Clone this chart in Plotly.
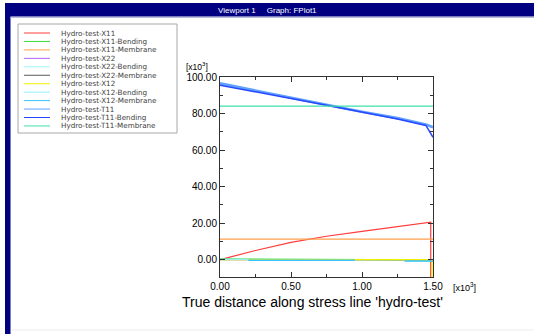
import plotly.graph_objects as go

# ---------------- data ----------------
names = [
    "Hydro-test-X11", "Hydro-test-X11-Bending", "Hydro-test-X11-Membrane",
    "Hydro-test-X22", "Hydro-test-X22-Bending", "Hydro-test-X22-Membrane",
    "Hydro-test-X12", "Hydro-test-X12-Bending", "Hydro-test-X12-Membrane",
    "Hydro-test-T11", "Hydro-test-T11-Bending", "Hydro-test-T11-Membrane",
]
colors = [
    "#ff3c3c", "#3ce03c", "#ffa04a",
    "#b266ff", "#9ff5f5", "#5a5a5a",
    "#f0f000", "#8ff0ff", "#38c4ff",
    "#5fa0ff", "#2848ff", "#3ee0a8",
]

x11_x = [0, 0.25, 0.5, 0.75, 1.0, 1.25, 1.45, 1.484, 1.484]
x11_y = [0, 5, 9.5, 12.8, 15.5, 18, 20.3, 20.5, -9.5]
x11b_x = [0, 0.25, 0.5, 0.75, 1.0, 1.25, 1.48]
x11b_y = [0.4, 0.3, 0.2, 0.1, 0.0, -0.1, -0.2]
x11m_x = [0, 1.5]
x11m_y = [11.2, 11.2]
x22_x = [0, 1.48]
x22_y = [0.0, 0.0]
x22b_x = [0, 1.48]
x22b_y = [0.1, 0.1]
x22m_x = [0, 1.48]
x22m_y = [0.0, 0.0]
x12_x = [0, 0.5, 1.0, 1.3, 1.493, 1.493]
x12_y = [0.0, 0.0, 0.1, 0.0, 0.0, -9.5]
x12b_x = [0, 0.2]
x12b_y = [0.2, 0.2]
x12m_x = [0.2, 0.5, 0.95, None, 1.3, 1.5]
x12m_y = [-0.3, -0.4, -0.3, None, -0.8, -0.8]
t11_x = [0, 0.25, 0.5, 0.75, 1.0, 1.25, 1.45, 1.5]
t11_y = [96.5, 92.5, 88.5, 84.8, 81.0, 77.5, 74.0, 72.5]
t11b_x = [0, 0.25, 0.5, 0.75, 1.0, 1.25, 1.45, 1.5]
t11b_y = [95.5, 92.0, 88.2, 84.5, 80.8, 77.0, 73.5, 67.0]
t11m_x = [0, 1.5]
t11m_y = [84.0, 84.0]

series_x = [x11_x, x11b_x, x11m_x, x22_x, x22b_x, x22m_x,
            x12_x, x12b_x, x12m_x, t11_x, t11b_x, t11m_x]
series_y = [x11_y, x11b_y, x11m_y, x22_y, x22b_y, x22m_y,
            x12_y, x12b_y, x12m_y, t11_y, t11b_y, t11m_y]
widths = [1.2, 1.4, 1.2, 1, 1, 1, 1.2, 1.2, 1.4, 2.6, 1.5, 1.2]

x_ticks = [0, 0.5, 1.0, 1.5]
y_ticks = [0, 20, 40, 60, 80, 100]

# ---------------- layout helpers ----------------
W, H = 534, 334
L, R, T, B = 220, 433, 77, 277


def px(x):
    return (x - L) / (R - L)


def py(y):
    return (B - y) / (B - T)


fig = go.Figure()
for nm, c, xs, ys, w in zip(names, colors, series_x, series_y, widths):
    fig.add_trace(go.Scatter(x=xs, y=ys, mode="lines", name=nm,
                             line=dict(color=c, width=w), showlegend=False))

FONT = "Liberation Sans, Arial, sans-serif"

shapes = []
annotations = []
# navy frame
shapes.append(dict(type="rect", xref="paper", yref="paper", x0=px(5), x1=px(534),
                   y0=py(16.5), y1=py(3), fillcolor="#000080", line_width=0, layer="below"))
shapes.append(dict(type="rect", xref="paper", yref="paper", x0=px(5), x1=px(10.5),
                   y0=py(334), y1=py(3), fillcolor="#000080", line_width=0, layer="below"))
shapes.append(dict(type="line", xref="paper", yref="paper", x0=px(10.5), x1=px(534),
                   y0=py(17.5), y1=py(17.5), line=dict(color="#b8bcd8", width=1)))
shapes.append(dict(type="line", xref="paper", yref="paper", x0=px(12), x1=px(534),
                   y0=py(330), y1=py(330), line=dict(color="#ececf0", width=1)))
annotations.append(dict(text="Viewport 1     Graph: FPlot1", xref="paper", yref="paper",
                        x=px(267), y=py(10), xanchor="center", yanchor="middle",
                        showarrow=False,
                        font=dict(color="white", size=8, family=FONT)))

# custom compact legend
shapes.append(dict(type="rect", xref="paper", yref="paper", x0=px(18), x1=px(177),
                   y0=py(133), y1=py(24), line=dict(color="#a8a8a8", width=1),
                   fillcolor="white", layer="below"))
for i, (nm, c) in enumerate(zip(names, colors)):
    yy = 33 + i * 8.45
    shapes.append(dict(type="line", xref="paper", yref="paper", x0=px(24), x1=px(50),
                       y0=py(yy), y1=py(yy), line=dict(color=c, width=1)))
    annotations.append(dict(text=nm, xref="paper", yref="paper", x=px(59), y=py(yy),
                            xanchor="left", yanchor="middle", showarrow=False,
                            font=dict(size=7.2, color="#404040",
                                      family="DejaVu Sans, sans-serif")))

# exponent labels
annotations.append(dict(text="[x10<sup>3</sup>]", xref="paper", yref="paper", x=px(184),
                        y=py(66), xanchor="left", yanchor="middle", showarrow=False,
                        font=dict(size=8.5, color="black", family=FONT)))
annotations.append(dict(text="[x10<sup>3</sup>]", xref="paper", yref="paper", x=px(451),
                        y=py(287), xanchor="left", yanchor="middle", showarrow=False,
                        font=dict(size=9, color="black", family=FONT)))
# x axis title
annotations.append(dict(text="True distance along stress line 'hydro-test'",
                        xref="paper", yref="paper", x=px(312), y=py(302),
                        xanchor="center", yanchor="middle", showarrow=False,
                        font=dict(size=14, color="black", family=FONT)))

fig.update_layout(
    width=W, height=H,
    margin=dict(l=L, r=W - R, t=T, b=H - B),
    paper_bgcolor="white", plot_bgcolor="white",
    shapes=shapes, annotations=annotations,
    showlegend=False,
    font=dict(family=FONT, color="black"),
    xaxis=dict(range=[0, 1.5], tickvals=x_ticks, tickformat=".2f",
               showgrid=False, zeroline=False, showline=True, linecolor="#303030",
               linewidth=1, mirror="allticks", ticks="inside", ticklen=5,
               tickcolor="#303030",
               minor=dict(dtick=0.25, ticks="inside", ticklen=3, tickcolor="#303030"),
               tickfont=dict(size=10, color="black")),
    yaxis=dict(range=[-9.5, 100], tickvals=y_ticks, tickformat=".2f",
               showgrid=False, zeroline=False, showline=True, linecolor="#303030",
               linewidth=1, mirror="allticks", ticks="inside", ticklen=5,
               tickcolor="#303030",
               minor=dict(dtick=10, ticks="inside", ticklen=3, tickcolor="#303030"),
               tickfont=dict(size=10, color="black")),
)

fig.write_html("out.html")
